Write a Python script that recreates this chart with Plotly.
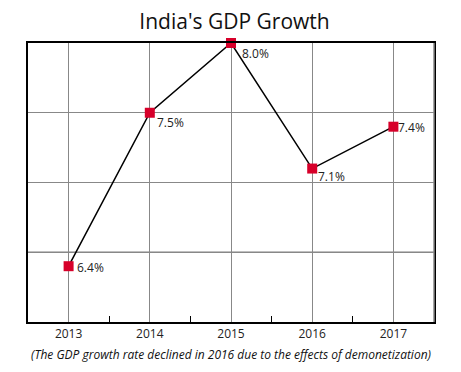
import plotly.graph_objects as go

years = [2013, 2014, 2015, 2016, 2017]
growth = [6.4, 7.5, 8.0, 7.1, 7.4]
labels = ["6.4%", "7.5%", "8.0%", "7.1%", "7.4%"]
title_text = "India's GDP Growth"
note_text = "(The GDP growth rate declined in 2016 due to the effects of demonetization)"

# label offsets in pixels (right, down) from each marker
label_dx = [6, 5, 9, 4, 3]
label_dy = [1, 10, 10, 8, 1]

FONT = "Open Sans"

fig = go.Figure()
fig.add_trace(go.Scatter(
    x=years, y=growth, mode="lines+markers",
    line=dict(color="black", width=1.5),
    marker=dict(symbol="square", size=10, color="#D7002A"),
    cliponaxis=False, showlegend=False,
))

for xv, yv, t, dx, dy in zip(years, growth, labels, label_dx, label_dy):
    fig.add_annotation(x=xv, y=yv, text=t, showarrow=False, xanchor="left", yanchor="middle",
                       xshift=dx, yshift=-dy, font=dict(family=FONT, size=12, color="#222"))

fig.add_shape(type="line", xref="paper", yref="y", x0=0, x1=1, y0=6.5, y1=6.5,
              line=dict(color="black", width=1.2), layer="below")
fig.add_shape(type="line", xref="paper", yref="paper", x0=1, x1=1, y0=0, y1=1,
              line=dict(color="#888", width=1.5), layer="above")

fig.update_layout(
    width=453, height=364,
    margin=dict(l=20, r=27, t=35, b=50),
    paper_bgcolor="white", plot_bgcolor="white",
    title=dict(text=title_text, x=0.5, xanchor="center", y=1 - 14 / 364, yanchor="middle",
               font=dict(family=FONT, size=21, color="#111")),
    xaxis=dict(range=[2012.5, 2017.5], tickvals=years, ticktext=[str(y) for y in years],
               showgrid=True, gridcolor="#888", gridwidth=1.2,
               showline=True, linecolor="black", linewidth=1.5, mirror=True,
               ticks="", tickfont=dict(family=FONT, size=12, color="#222"),
               minor=dict(tickvals=[2013.5, 2014.5, 2015.5, 2016.5], ticks="inside",
                          ticklen=6, tickcolor="black", tickwidth=1, showgrid=False),
               zeroline=False, fixedrange=True),
    yaxis=dict(range=[6, 8], dtick=0.5, showticklabels=False,
               showgrid=True, gridcolor="#888", gridwidth=1.2,
               showline=True, linecolor="black", linewidth=1.5, mirror=True,
               ticks="", zeroline=False, fixedrange=True),
)

fig.add_annotation(text="<i>" + note_text + "</i>", xref="paper", yref="paper",
                   x=0.5, y=-(347 - 314) / 279, xanchor="center", yanchor="middle", showarrow=False,
                   font=dict(family=FONT, size=12, color="#111"))

fig.write_html("out.html")
